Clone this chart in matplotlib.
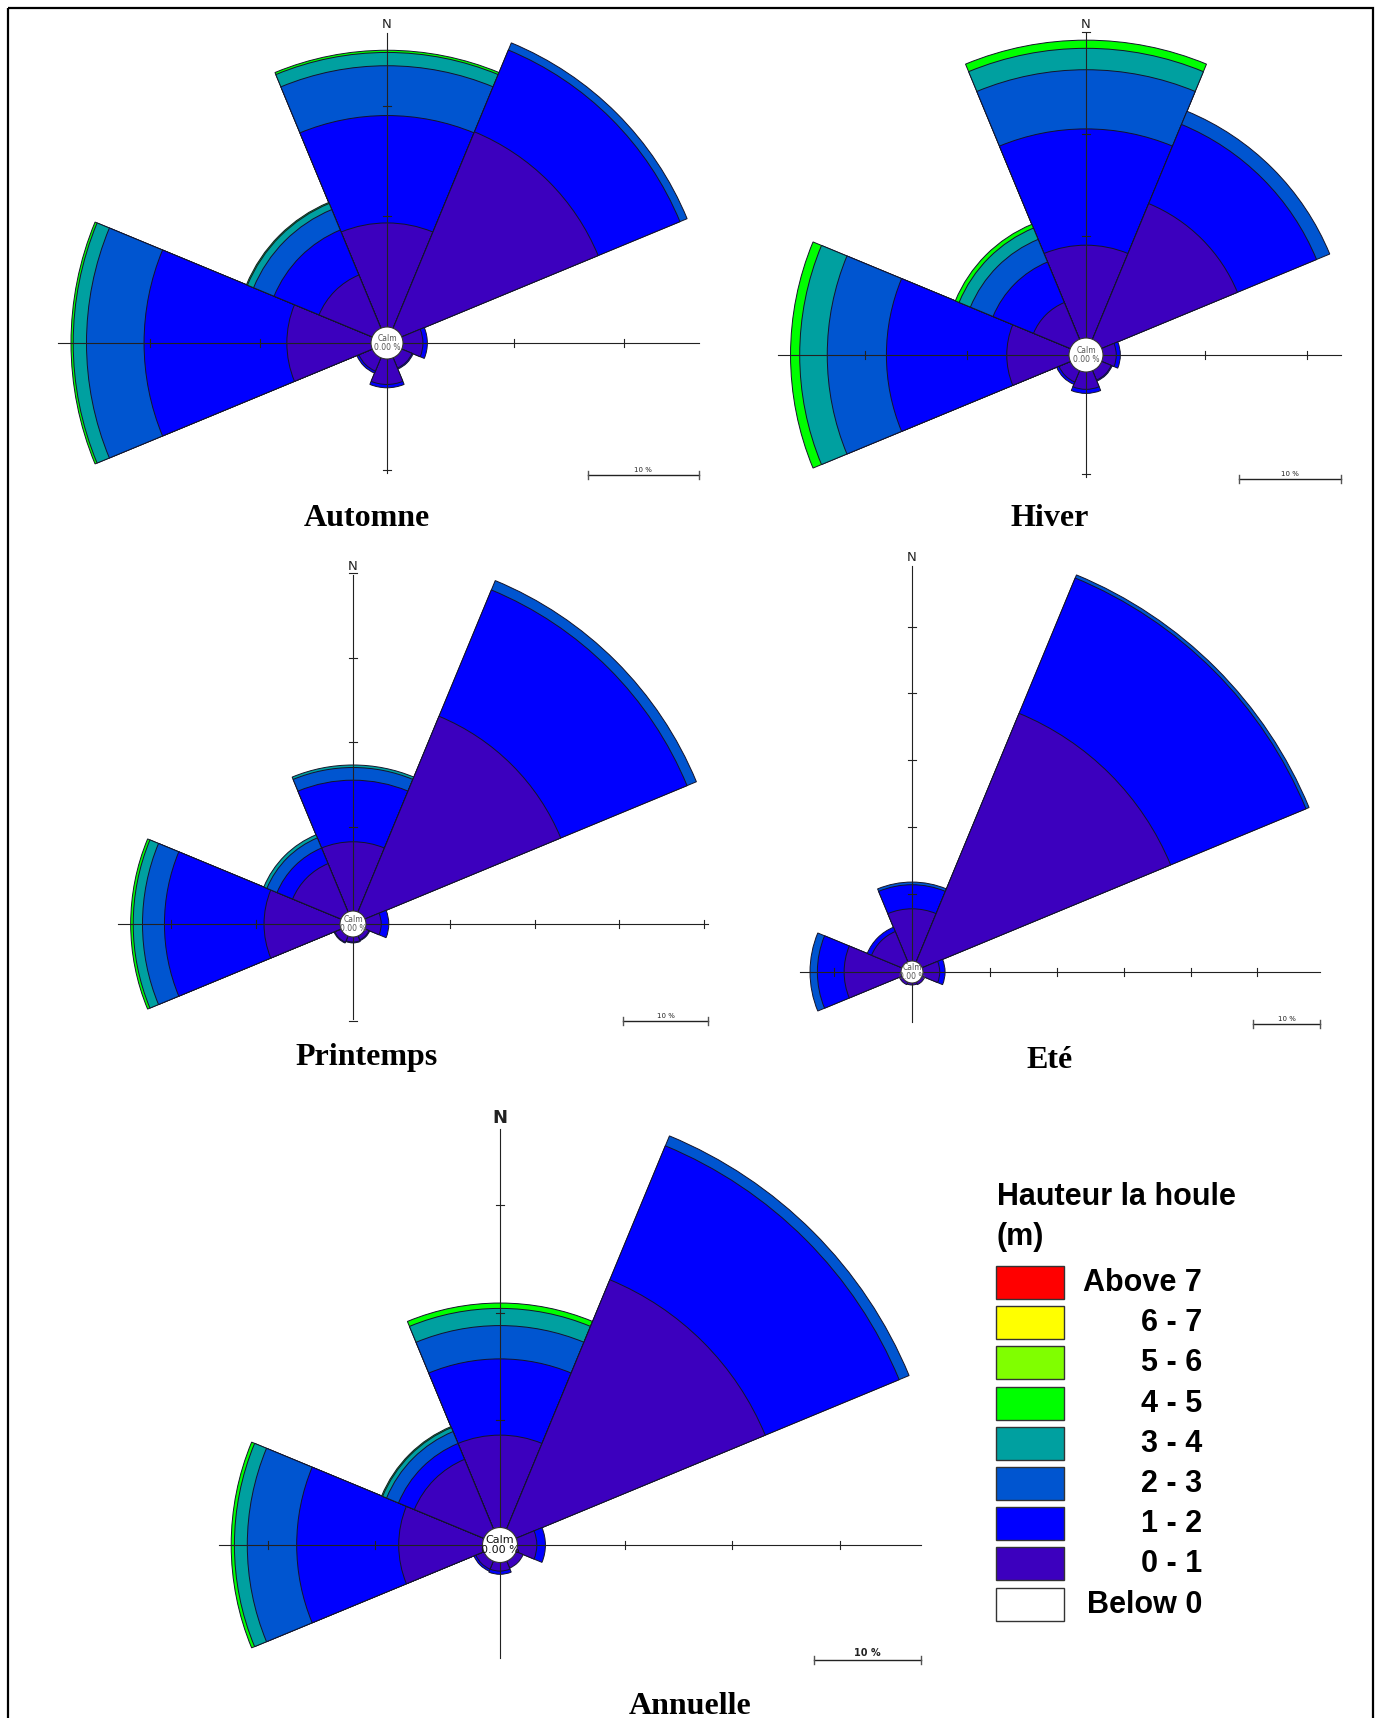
import numpy as np
import matplotlib.pyplot as plt
from matplotlib.patches import Wedge, Circle, Rectangle

W, H = 1382, 1718

# secteurs de 45° : N, NE, E, SE, S, SW, W, NW
directions = [0, 45, 90, 135, 180, 225, 270, 315]
class_colors = ['#3c00be', '#0000ff', '#0055d0', '#00a0a0', '#00ff00']

legend_labels = ['Above 7', '6 - 7', '5 - 6', '4 - 5', '3 - 4', '2 - 3', '1 - 2', '0 - 1', 'Below 0']
legend_colors = ['#ff0000', '#ffff00', '#80ff00', '#00ff00', '#00a0a0', '#0055d0', '#0000ff', '#3c00be', '#ffffff']

# fréquences (%) par direction, classes 0-1, 1-2, 2-3, 3-4, 4-5 m
automne = [
    [9.4, 9.7, 4.5, 1.2, 0.2],
    [19.2, 8.0, 0.7, 0.0, 0.0],
    [1.8, 0.4, 0.0, 0.0, 0.0],
    [1.0, 0.1, 0.0, 0.0, 0.0],
    [2.3, 0.3, 0.0, 0.0, 0.0],
    [1.3, 0.2, 0.0, 0.0, 0.0],
    [7.6, 12.9, 5.2, 1.2, 0.2],
    [5.2, 4.4, 2.0, 0.6, 0.1],
]
hiver = [
    [9.1, 11.4, 5.8, 2.1, 0.8],
    [14.4, 8.4, 1.4, 0.0, 0.0],
    [1.3, 0.4, 0.0, 0.0, 0.0],
    [1.0, 0.1, 0.0, 0.0, 0.0],
    [1.7, 0.4, 0.0, 0.0, 0.0],
    [1.2, 0.25, 0.0, 0.0, 0.0],
    [6.1, 11.8, 5.8, 2.7, 0.9],
    [3.9, 4.3, 2.4, 1.2, 0.4],
]
printemps = [
    [8.2, 7.3, 1.5, 0.3, 0.0],
    [25.1, 16.2, 1.2, 0.0, 0.0],
    [1.8, 0.9, 0.0, 0.0, 0.0],
    [0.5, 0.1, 0.0, 0.0, 0.0],
    [0.6, 0.1, 0.0, 0.0, 0.0],
    [0.8, 0.1, 0.0, 0.0, 0.0],
    [9.0, 11.8, 2.6, 1.1, 0.3],
    [6.2, 2.0, 1.3, 0.4, 0.0],
]
ete = [
    [7.8, 3.6, 0.4, 0.0, 0.0],
    [40.2, 21.9, 0.5, 0.0, 0.0],
    [2.5, 0.8, 0.0, 0.0, 0.0],
    [0.4, 0.0, 0.0, 0.0, 0.0],
    [0.3, 0.0, 0.0, 0.0, 0.0],
    [0.4, 0.0, 0.0, 0.0, 0.0],
    [8.5, 4.0, 1.1, 0.0, 0.0],
    [4.9, 0.7, 0.0, 0.0, 0.0],
]
annuelle = [
    [8.6, 7.1, 3.1, 1.6, 0.5],
    [25.1, 13.5, 1.0, 0.0, 0.0],
    [1.8, 0.8, 0.0, 0.0, 0.0],
    [0.7, 0.0, 0.0, 0.0, 0.0],
    [0.8, 0.3, 0.0, 0.0, 0.0],
    [0.8, 0.2, 0.0, 0.0, 0.0],
    [7.8, 9.5, 4.6, 1.2, 0.3],
    [7.0, 1.6, 1.2, 0.4, 0.1],
]

# titre, données, centre (px), px par %, rayon du calme (px), bras E/N/W/S (%), titre (px), grand
panels = [
    ('Automne', automne, (387, 343), 11.07, 16, (26.7, 26.6, 28.3, 10.3), (367, 518), False),
    ('Hiver', hiver, (1086, 355), 10.2, 17, (23.3, 29.9, 28.5, 10.3), (1050, 518), False),
    ('Printemps', printemps, (353, 924), 8.44, 13, (40.5, 39.8, 26.3, 9.7), (367, 1057), False),
    ('Eté', ete, (912, 972), 6.69, 11, (59.4, 59.0, 15.1, 5.8), (1050, 1061), False),
    ('Annuelle', annuelle, (500, 1545), 10.74, 17.5, (37.6, 37.1, 24.5, 8.9), (690, 1706), True),
]

fig = plt.figure(figsize=(W / 100, H / 100), dpi=100)


def rose(data, centre, k, r_calm, arms, big):
    cx, cy = centre
    ax = fig.add_axes([0, 0, 1, 1])
    ax.set_xlim(-cx / k, (W - cx) / k)
    ax.set_ylim(-(H - cy) / k, cy / k)
    ax.set_aspect('equal')
    ax.axis('off')
    c0 = r_calm / k

    for d, row in zip(directions, data):
        cum = c0 + np.cumsum(row)
        for i in range(len(row) - 1, -1, -1):
            if row[i] <= 0:
                continue
            ax.add_patch(Wedge((0, 0), cum[i], 90 - d - 22.5, 90 - d + 22.5,
                               facecolor=class_colors[i], edgecolor='#14142a', lw=0.7, zorder=2))

    # bras des axes avec graduations tous les 10 %
    tick = 4.0 / k
    for (ux, uy), length in zip([(1, 0), (0, 1), (-1, 0), (0, -1)], arms):
        ax.plot([0, ux * (c0 + length)], [0, uy * (c0 + length)], color='#222222', lw=0.8, zorder=3)
        for v in np.arange(10, length + 0.5, 10):
            r = c0 + v
            ax.plot([ux * r - uy * tick, ux * r + uy * tick],
                    [uy * r - ux * tick, uy * r + ux * tick], color='#222222', lw=0.8, zorder=3)

    ax.add_patch(Circle((0, 0), c0, facecolor='white', edgecolor='#333333', lw=0.8, zorder=4))
    ax.text(0, 0, 'Calm\n0.00 %', ha='center', va='center', fontsize=8 if big else 5.5,
            color='#111111' if big else '#555555', linespacing=1.0, zorder=5)

    ax.text(0, c0 + arms[1] + 2 / k, 'N', ha='center', va='bottom',
            fontsize=13 if big else 9.5, fontweight='bold' if big else 'normal', color='#222222')

    # échelle 10 % alignée sur l'extrémité du bras est
    xr = c0 + arms[0]
    yb = -(c0 + arms[3]) - 2 / k
    ax.plot([xr - 10, xr], [yb, yb], color='#222222', lw=1.0)
    for xe in (xr - 10, xr):
        ax.plot([xe, xe], [yb - tick, yb + tick], color='#555555', lw=1.0)
    ax.text(xr - 5, yb + 2 / k, '10 %', ha='center', va='bottom',
            fontsize=7 if big else 5, fontweight='bold' if big else 'normal', color='#222222')


for title, data, centre, k, r_calm, arms, tpos, big in panels:
    rose(data, centre, k, r_calm, arms, big)
    fig.text(tpos[0] / W, 1 - tpos[1] / H, title, ha='center', va='center',
             family='Liberation Serif', fontweight='bold', fontsize=23)

# cadre et légende
ov = fig.add_axes([0, 0, 1, 1])
ov.set_xlim(0, W)
ov.set_ylim(H, 0)
ov.axis('off')
ov.add_patch(Rectangle((8, 8), 1365, H + 10, fill=False, edgecolor='black', lw=1.6))

ov.text(997, 1205, 'Hauteur la houle', ha='left', va='baseline',
        family='Liberation Sans', fontweight='bold', fontsize=22)
ov.text(997, 1245, '(m)', ha='left', va='baseline',
        family='Liberation Sans', fontweight='bold', fontsize=22)
for j, (lab, col) in enumerate(zip(legend_labels, legend_colors)):
    y = 1266 + 40.2 * j
    ov.add_patch(Rectangle((996, y), 68, 33, facecolor=col, edgecolor='#333333', lw=1.0))
    ov.text(1202, y + 25, lab, ha='right', va='baseline',
            family='Liberation Sans', fontweight='bold', fontsize=22)

fig.savefig('out.png', dpi=100)
